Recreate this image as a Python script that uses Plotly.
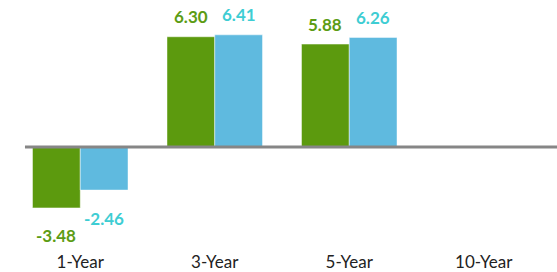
import plotly.graph_objects as go

categories = ["1-Year", "3-Year", "5-Year", "10-Year"]
fund_values = [-3.48, 6.30, 5.88, None]
bench_values = [-2.46, 6.41, 6.26, None]

GREEN = "#5c9a0e"
BLUE = "#5fbadf"
GREEN_TXT = "#5c9c14"
BLUE_TXT = "#3ecdd3"
FONT = "Lato, 'Open Sans', sans-serif"

fig = go.Figure()
fig.add_trace(go.Bar(x=categories, y=fund_values, marker=dict(color=GREEN, line=dict(color="rgba(255,255,255,0.45)", width=1)), name="Fund"))
fig.add_trace(go.Bar(x=categories, y=bench_values, marker=dict(color=BLUE, line=dict(color="rgba(255,255,255,0.45)", width=1)), name="Benchmark"))

annotations = []
for vals, color, xs in ((fund_values, GREEN_TXT, -24), (bench_values, BLUE_TXT, 24)):
    for c, v in zip(categories, vals):
        if v is None:
            continue
        annotations.append(dict(
            x=c, y=v, xref="x", yref="y", text=f"<b>{v:.2f}</b>", showarrow=False,
            xshift=xs, yshift=20 if v >= 0 else -28, yanchor="middle",
            font=dict(family=FONT, size=17, color=color)))

fig.update_layout(
    width=557, height=272,
    margin=dict(l=13, r=0, t=10, b=22),
    paper_bgcolor="white", plot_bgcolor="white",
    barmode="group", bargap=0.29, bargroupgap=0,
    showlegend=False,
    annotations=annotations,
    font=dict(family=FONT, size=17, color="#222222"),
    shapes=[dict(type="line", xref="paper", yref="y", x0=0.022, x1=1, y0=0, y1=0,
                 line=dict(color="#868686", width=3))],
)
fig.update_xaxes(range=[-0.5, 3.5446], showgrid=False, zeroline=False, showline=False,
                 ticks="", tickfont=dict(family=FONT, size=17, color="#222222"))
fig.update_yaxes(range=[-5.886, 7.83], showgrid=False, zeroline=False, showline=False,
                 showticklabels=False)

fig.write_html("out.html", config={"displayModeBar": False, "staticPlot": True},
               post_script="document.body.style.margin='0';document.body.style.overflow='hidden';")
